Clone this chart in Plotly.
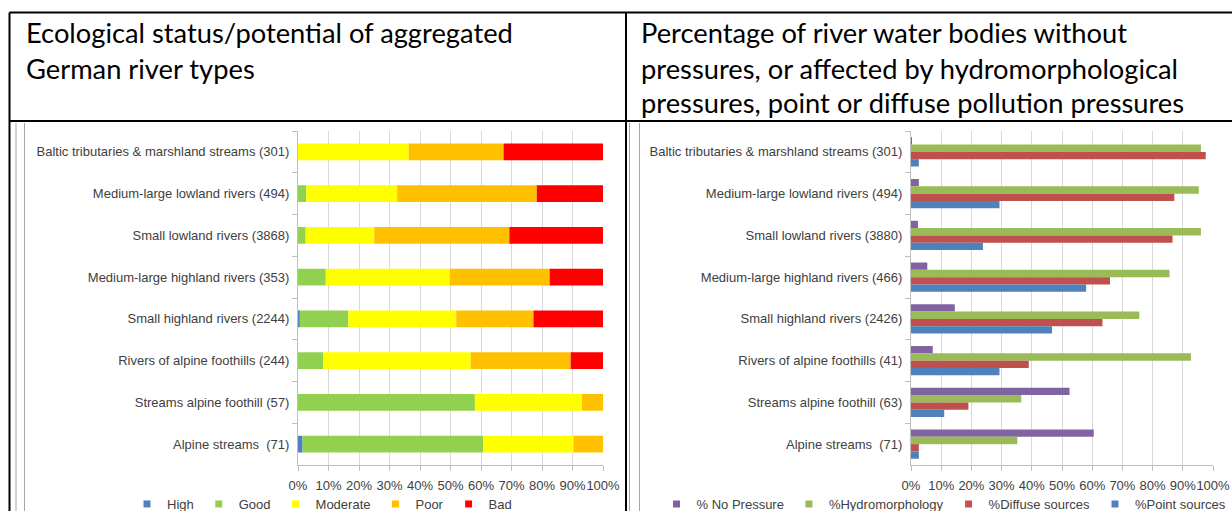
import numpy as np
import plotly.graph_objects as go

W, H = 1232, 511

# ---------------- data ----------------
status_categories = [
    "Baltic tributaries & marshland streams (301)",
    "Medium-large lowland rivers (494)",
    "Small lowland rivers (3868)",
    "Medium-large highland rivers (353)",
    "Small highland rivers (2244)",
    "Rivers of alpine foothills (244)",
    "Streams alpine foothill (57)",
    "Alpine streams\u00a0 (71)",
]
status_high = [0, 0, 0, 0, 0.5, 0, 0, 1.5]
status_good = [0, 2.7, 2.5, 9.1, 16.0, 8.3, 58.0, 59.2]
status_moderate = [36.3, 29.8, 22.5, 40.6, 35.4, 48.3, 35.1, 29.6]
status_poor = [31.1, 45.8, 44.3, 32.8, 25.3, 32.8, 6.9, 9.7]
status_bad = [32.6, 21.7, 30.7, 17.5, 22.8, 10.6, 0, 0]

pressure_categories = [
    "Baltic tributaries & marshland streams (301)",
    "Medium-large lowland rivers (494)",
    "Small lowland rivers (3880)",
    "Medium-large highland rivers (466)",
    "Small highland rivers (2426)",
    "Rivers of alpine foothills (41)",
    "Streams alpine foothill (63)",
    "Alpine streams\u00a0 (71)",
]
no_pressure = [0.3, 2.6, 2.3, 5.4, 14.5, 7.2, 52.5, 60.5]
hydromorphology = [96.0, 95.3, 96.0, 85.6, 75.6, 92.7, 36.5, 35.2]
diffuse_sources = [97.6, 87.2, 86.6, 65.9, 63.4, 39.0, 19.0, 2.6]
point_sources = [2.6, 29.3, 23.8, 58.0, 46.7, 29.3, 11.0, 2.6]

x_ticks = list(range(0, 101, 10))
x_tick_labels = [f"{v}%" for v in x_ticks]

header_left = ["Ecological status/potential of aggregated", "German river types"]
header_right = ["Percentage of river water bodies without",
                "pressures, or affected by hydromorphological",
                "pressures, point or diffuse pollution pressures"]

# ---------------- styling ----------------
status_series = [
    ("High", status_high, "#4F81BD"),
    ("Good", status_good, "#92D050"),
    ("Moderate", status_moderate, "#FFFF00"),
    ("Poor", status_poor, "#FFC000"),
    ("Bad", status_bad, "#FF0000"),
]
pressure_series = [
    ("% No Pressure", no_pressure, "#8064A2"),
    ("%Hydromorphology", hydromorphology, "#9BBB59"),
    ("%Diffuse sources", diffuse_sources, "#C0504D"),
    ("%Point sources", point_sources, "#4F81BD"),
]

def px(x):
    return x / W

def py(y):
    return 1 - y / H

TXT = "#404040"
FONT = "Liberation Sans, Arial, sans-serif"
HFONT = "Lato, Open Sans, sans-serif"

fig = go.Figure()

# left chart: stacked bars (base from cumulative sums)
cum = np.zeros(len(status_categories))
for name, vals, col in status_series:
    v = np.array(vals, dtype=float)
    fig.add_trace(go.Bar(
        y=status_categories, x=v, base=cum.copy(), orientation="h",
        name=name, marker=dict(color=col, line=dict(width=0)),
        width=0.4, offset=-0.2, xaxis="x", yaxis="y", showlegend=False,
        hoverinfo="name+x",
    ))
    cum += v
    fig.add_trace(go.Scatter(
        x=[None], y=[None], mode="markers", name=name,
        marker=dict(symbol="square", size=7, color=col),
        xaxis="x", yaxis="y", legend="legend",
    ))

# right chart: clustered bars
bw = 0.175
for i, (name, vals, col) in enumerate(pressure_series):
    fig.add_trace(go.Bar(
        y=pressure_categories, x=vals, orientation="h", name=name,
        marker=dict(color=col, line=dict(width=0)),
        width=bw, offset=-2 * bw + i * bw, xaxis="x2", yaxis="y2",
        showlegend=False,
    ))
    fig.add_trace(go.Scatter(
        x=[None], y=[None], mode="markers", name=name,
        marker=dict(symbol="square", size=7, color=col),
        xaxis="x2", yaxis="y2", legend="legend2",
    ))

ydom = [py(465), py(131)]
xcommon = dict(
    range=[0, 100], tickvals=x_ticks, ticktext=x_tick_labels, tickangle=0,
    showgrid=True, gridcolor="#D9D9D9", gridwidth=1,
    showline=True, linecolor="#BFBFBF", linewidth=1,
    ticks="outside", ticklen=5, tickcolor="#BFBFBF", ticklabelstandoff=3,
    ticklabeloverflow="allow",
    tickfont=dict(family=FONT, size=13, color=TXT),
    zeroline=False, fixedrange=True, automargin=False,
)
ycommon = dict(
    autorange="reversed", type="category",
    showline=True, linecolor="#BFBFBF", linewidth=1,
    ticks="outside", ticklen=5, tickcolor="#BFBFBF", tickson="boundaries",
    ticklabelstandoff=5,
    tickfont=dict(family=FONT, size=13, color=TXT),
    showgrid=False, domain=ydom, fixedrange=True, automargin=False,
)

fig.update_layout(
    width=W, height=H, margin=dict(l=0, r=0, t=0, b=0, autoexpand=False),
    paper_bgcolor="white", plot_bgcolor="white",
    barmode="overlay",
    xaxis=dict(domain=[px(298), px(603)], anchor="y", **xcommon),
    yaxis=dict(anchor="x", **ycommon),
    xaxis2=dict(domain=[px(911), px(1213)], anchor="y2", **xcommon),
    yaxis2=dict(anchor="x2", **ycommon),
    legend=dict(orientation="h", x=px(322), xanchor="center", y=py(504), yanchor="middle",
                font=dict(family=FONT, size=13, color=TXT), bgcolor="rgba(0,0,0,0)",
                itemwidth=30, tracegroupgap=0),
    legend2=dict(orientation="h", x=px(944), xanchor="center", y=py(504), yanchor="middle",
                 font=dict(family=FONT, size=13, color=TXT), bgcolor="rgba(0,0,0,0)",
                 itemwidth=30, tracegroupgap=0),
    font=dict(family=FONT, color=TXT),
)

# table frame lines
shapes = []
def line(x0, y0, x1, y1, color="black", width=2):
    shapes.append(dict(type="line", xref="paper", yref="paper",
                       x0=px(x0), y0=py(y0), x1=px(x1), y1=py(y1),
                       line=dict(color=color, width=width)))

line(9.5, 12.5, W, 12.5)
line(9.5, 12.5, 9.5, H)
line(626, 12.5, 626, H)
line(9.5, 121, W, 121)
for gx in (16, 24.5, 629.5, 639.5):
    line(gx, 123, gx, H, color="#A6A6A6", width=1)
fig.update_layout(shapes=shapes)

# header texts
ann = []
line_y = [32, 68, 102]
for i, t in enumerate(header_left):
    ann.append(dict(text=t, xref="paper", yref="paper", x=px(24), y=py(line_y[i]),
                    xanchor="left", yanchor="middle", showarrow=False,
                    font=dict(family=HFONT, size=27.3, color="black")))
for i, t in enumerate(header_right):
    ann.append(dict(text=t, xref="paper", yref="paper", x=px(639), y=py(line_y[i]),
                    xanchor="left", yanchor="middle", showarrow=False,
                    font=dict(family=HFONT, size=27.3, color="black")))
fig.update_layout(annotations=ann)

fig.write_html(
    "out.html",
    config={"displayModeBar": False},
    post_script="document.body.style.margin='0';document.body.style.overflow='hidden';",
)
